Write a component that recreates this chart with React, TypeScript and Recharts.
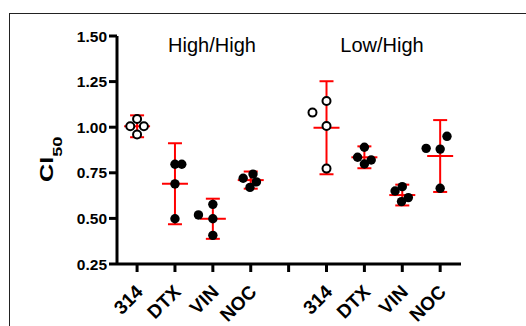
import { ErrorBar, Scatter, ScatterChart, XAxis, YAxis } from "recharts"

// categories and tick labels
const groupTitles = ["High/High", "Low/High"]
const tickPositions = [1, 2, 3, 4, 5, 6, 7, 8, 9]
const tickLabels = ["314", "DTX", "VIN", "NOC", "", "314", "DTX", "VIN", "NOC"]
const yTicks = [0.25, 0.5, 0.75, 1.0, 1.25, 1.5]

// individual measurements (x = category position incl. scatter spread)
const openX = [1.0, 0.82, 1.18, 1.0, 5.63, 6.0, 6.0, 6.0]
const openY = [1.045, 1.005, 1.005, 0.96, 1.08, 1.144, 1.007, 0.773]

const filledX = [
  2.0, 2.18, 2.0, 2.0,
  2.62, 3.0, 3.0, 3.0,
  3.8, 4.06, 4.15, 3.98,
  7.0, 6.82, 7.18, 7.0,
  8.0, 7.81, 8.16, 7.98,
  8.63, 9.0, 9.18, 9.0,
]
const filledY = [
  0.797, 0.797, 0.689, 0.498,
  0.519, 0.577, 0.498, 0.407,
  0.72, 0.743, 0.7, 0.67,
  0.89, 0.835, 0.82, 0.798,
  0.674, 0.65, 0.614, 0.592,
  0.884, 0.88, 0.95, 0.665,
]

// mean +/- SD per condition
const meanX = [1, 2, 3, 4, 6, 7, 8, 9]
const meanY = [1.005, 0.69, 0.498, 0.71, 0.997, 0.835, 0.628, 0.842]
const sdY = [0.06, 0.222, 0.11, 0.047, 0.255, 0.06, 0.057, 0.197]

const openData = openX.map((x, i) => ({ x, y: openY[i] }))
const filledData = filledX.map((x, i) => ({ x, y: filledY[i] }))
const meanData = meanX.map((x, i) => ({ x, y: meanY[i], sd: sdY[i] }))

const FONT = "'Liberation Sans', Arial, sans-serif"
const RED = "#ff0000"

const XTick = ({ x, y, payload }: any) => {
  const label = tickLabels[tickPositions.indexOf(payload.value)]
  const px = x + 7
  const py = y + 19
  return (
    <text
      x={px}
      y={py}
      transform={`rotate(-45 ${px} ${py})`}
      textAnchor="end"
      fontFamily={FONT}
      fontWeight="bold"
      fontSize={19}
      fill="#000"
    >
      {label}
    </text>
  )
}

const MeanLine = ({ cx, cy }: any) => (
  <line x1={cx - 13} x2={cx + 13} y1={cy} y2={cy} stroke={RED} strokeWidth={2} />
)

const OpenDot = ({ cx, cy }: any) => (
  <circle cx={cx} cy={cy} r={4} fill="#fff" stroke="#000" strokeWidth={2} />
)

const FilledDot = ({ cx, cy }: any) => <circle cx={cx} cy={cy} r={4.7} fill="#000" />

export default function App() {
  return (
    <div style={{ position: "absolute", left: 0, top: 0, width: 526, height: 326, background: "#fff" }}>
      <div
        style={{
          position: "absolute",
          left: 9,
          top: 13,
          right: 0,
          bottom: 0,
          borderTop: "1px solid #222",
          borderLeft: "1px solid #222",
        }}
      />
      <ScatterChart width={526} height={326} margin={{ top: 36, right: 65, bottom: 12, left: 57 }}>
        <XAxis
          type="number"
          dataKey="x"
          domain={[0.47, 9.55]}
          ticks={tickPositions}
          interval={0}
          height={50}
          tick={<XTick />}
          tickSize={8}
          axisLine={{ stroke: "#000", strokeWidth: 3 }}
          tickLine={{ stroke: "#000", strokeWidth: 3 }}
        />
        <YAxis
          type="number"
          dataKey="y"
          domain={[0.25, 1.5]}
          ticks={yTicks}
          interval={0}
          width={60}
          tickSize={8}
          tickMargin={2}
          tickFormatter={(v: number) => v.toFixed(2)}
          tick={{ fill: "#000", fontSize: 15.5, fontWeight: "bold", fontFamily: FONT }}
          axisLine={{ stroke: "#000", strokeWidth: 3 }}
          tickLine={{ stroke: "#000", strokeWidth: 3 }}
        />
        <Scatter data={meanData} shape={<MeanLine />} isAnimationActive={false}>
          <ErrorBar dataKey="sd" direction="y" width={7} stroke={RED} strokeWidth={2} isAnimationActive={false} />
        </Scatter>
        <Scatter data={filledData} shape={<FilledDot />} isAnimationActive={false} />
        <Scatter data={openData} shape={<OpenDot />} isAnimationActive={false} />
      </ScatterChart>
      <svg width={526} height={326} style={{ position: "absolute", left: 0, top: 0, pointerEvents: "none" }}>
        <text x={212} y={52} textAnchor="middle" fontFamily={FONT} fontSize={20} fill="#000">
          {groupTitles[0]}
        </text>
        <text x={382} y={52} textAnchor="middle" fontFamily={FONT} fontSize={20} fill="#000">
          {groupTitles[1]}
        </text>
        <text transform="translate(53,182) rotate(-90) scale(1.4,1)" fontFamily={FONT} fontWeight="bold" fill="#000">
          <tspan fontSize={18}>CI</tspan>
          <tspan fontSize={13} dy={9}>50</tspan>
        </text>
      </svg>
    </div>
  )
}
